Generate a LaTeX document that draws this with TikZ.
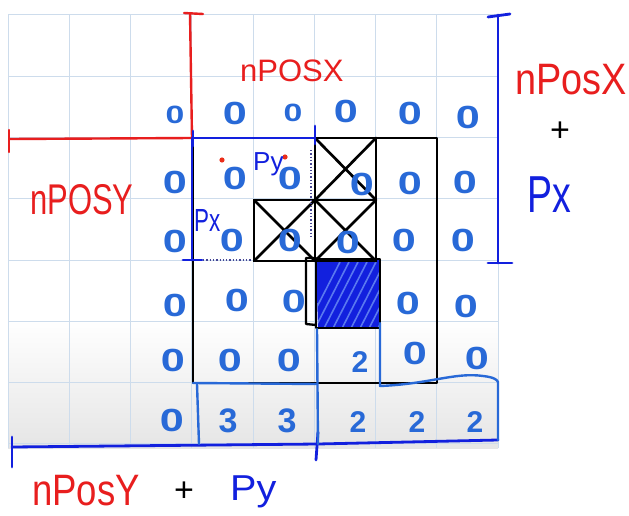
\documentclass[tikz,border=0pt]{standalone}
\usepackage{fontspec}
\setmainfont{Liberation Sans}
\usetikzlibrary{calc}
\definecolor{zb}{RGB}{40,105,215}
\definecolor{pb}{RGB}{18,32,222}
\definecolor{pr}{RGB}{232,30,30}
\definecolor{gridc}{RGB}{205,220,236}
\definecolor{dotc}{RGB}{70,70,150}
\definecolor{hatchc}{RGB}{90,120,240}
\newcommand\zerog{\scalebox{1.35}[1]{0}}
\begin{document}
\begin{tikzpicture}[x=1pt,y=-1pt,
  gridline/.style={gridc,line width=1pt},
  blk/.style={black,line width=2.7pt,line join=round,line cap=round},
  bracketblue/.style={pb,line width=2.8pt,line cap=round},
  outlineblue/.style={zb,line width=2.4pt,line cap=round,line join=round},
  bracketred/.style={pr,line width=2.4pt,line cap=round},
  digit/.style={text=zb,inner sep=0pt,font=\fontsize{32}{32}\selectfont\bfseries},
  digitsmall/.style={digit,font=\fontsize{25}{25}\selectfont\bfseries},
  redlabel/.style={text=pr,inner sep=0pt},
  bluelabel/.style={text=pb,inner sep=0pt},
  pluslabel/.style={text=black,inner sep=0pt,font=\fontsize{34}{34}\selectfont}]
\useasboundingbox (0,0) rectangle (629,516);
\fill[white] (0,0) rectangle (629,516);
% paper shading and grid
\shade[top color=white,bottom color=black!10] (8,320) rectangle (498,448);
\foreach \i in {0,...,8} \draw[gridline] ({8+61.25*\i},15) -- ({8+61.25*\i},448);
\foreach \j in {0,...,7} \draw[gridline] (8,{15+61.25*\j}) -- (498,{15+61.25*\j});

% hatched cell
\begin{scope}
  \clip (316,260) -- (380,259) -- (380,327) -- (318,329) -- cycle;
  \fill[pb] (300,250) rectangle (390,340);
  \foreach \k in {0,9,...,90}
    \draw[hatchc,line width=1.6pt] ({300+\k},340) -- ({340+\k},262);
\end{scope}
\draw[blk,line width=2.3pt] (316,259) rectangle (380,328);
\draw[blk,line width=2.3pt] (316,258) -- (306,258) -- (306,324) -- (316,325);

% black outline and crossed cells
\draw[blk] (315,138) -- (437,138) -- (437,383) -- (193,383) -- (193,140);
\draw[blk] (315,138) -- (315,261);
\draw[blk] (376,138) -- (376,261);
\draw[blk] (315,200) -- (376,200);
\draw[blk] (254,200) rectangle (315,261);
\draw[blk] (315,261) -- (376,261);
\draw[blk] (315,138) -- (376,200) (376,138) -- (315,200);
\draw[blk] (254,200) -- (315,261) (315,200) -- (254,261);
\draw[blk] (315,200) -- (376,261) (376,200) -- (315,261);

% dotted marks
\draw[dotc,dotted,line width=1.3pt] (311,150) -- (311,236);
\draw[dotc,dotted,line width=1.3pt] (203,260) -- (252,260);

% coordinates for brackets
\coordinate (rvTop) at (190,13);   \coordinate (rvBot) at (192,138);
\coordinate (rhL) at (10,139);     \coordinate (rhR) at (192,138);
\coordinate (bTop) at (498,15);    \coordinate (bBot) at (498,263);
\coordinate (tL) at (193,138);     \coordinate (tR) at (315,138);
\coordinate (lT) at (192,138);     \coordinate (lB) at (192,260);
\coordinate (bl) at (12,447);      \coordinate (bm) at (318,444);
\coordinate (br) at (498,440);

% red brackets
\draw[bracketred] (rvTop) -- (rvBot);
\draw[bracketred] ($(rvTop)+(-6,0)$) -- ($(rvTop)+(13,1)$);
\draw[bracketred] (rhL) -- (rhR);
\draw[bracketred] ($(rhL)+(-1,-9)$) -- ($(rhL)+(-1,13)$);

% blue brackets
\draw[bracketblue] (bTop) -- (bBot);
\draw[bracketblue] ($(bTop)+(-10,2)$) -- ($(bTop)+(12,-1)$);
\draw[bracketblue] ($(bBot)+(-10,0)$) -- ($(bBot)+(14,0)$);
\draw[bracketblue] (tL) -- (tR);
\draw[bracketblue] ($(tR)+(0,-12)$) -- ($(tR)+(0,6)$);
\draw[bracketblue] ($(tL)+(0,-7)$) -- ($(tL)+(0,8)$);
\draw[bracketblue] (lT) -- (lB);
\draw[bracketblue] ($(lB)+(-9,0)$) -- ($(lB)+(10,0)$);
\draw[bracketblue] (bl) -- (bm) -- (br);
\draw[bracketblue] ($(bl)+(0,-10)$) -- ($(bl)+(0,20)$);
\draw[bracketblue] ($(bm)+(0,-12)$) -- ($(bm)+(-2,16)$);

% blue outline of the bottom region
\draw[outlineblue] (193,383) -- (317,384);
\draw[outlineblue] (197,384) -- (199,444);
\draw[outlineblue] (317,329) -- (318,444);
\draw[outlineblue] (380,323) -- (380,386)
  .. controls (430,384) and (455,372) .. (483,376)
  .. controls (492,377) and (497,379) .. (498,382) -- (498,440);

% red dots
\fill[pr!85!orange] (222,160) circle (2.6);
\fill[pr!85!orange] (285,157) circle (2.6);

% row 1
\node[digitsmall] (c12) at (175,115) {\zerog};
\node[digit] (c13) at (235,113) {\zerog};
\node[digitsmall] (c14) at (293,113) {\zerog};
\node[digit] (c15) at (346,111) {\zerog};
\node[digit] (c16) at (410,113) {\zerog};
\node[digit] (c17) at (468,117) {\zerog};
% row 2
\node[digit] (c22) at (175,182) {\zerog};
\node[digit] (c23) at (235,178) {\zerog};
\node[digit] (c24) at (290,178) {\zerog};
\node[digit] (c25) at (362,184) {\zerog};
\node[digit] (c26) at (410,183) {\zerog};
\node[digit] (c27) at (465,182) {\zerog};
% row 3
\node[digit] (c32) at (175,241) {\zerog};
\node[digit] (c33) at (232,240) {\zerog};
\node[digit] (c34) at (290,240) {\zerog};
\node[digit] (c35) at (348,242) {\zerog};
\node[digit] (c36) at (404,240) {\zerog};
\node[digit] (c37) at (463,240) {\zerog};
% row 4
\node[digit] (c42) at (175,305) {\zerog};
\node[digit] (c43) at (237,300) {\zerog};
\node[digit] (c44) at (294,301) {\zerog};
\node[digit] (c46) at (408,303) {\zerog};
\node[digit] (c47) at (466,306) {\zerog};
% row 5
\node[digit] (c52) at (173,360) {\zerog};
\node[digit] (c53) at (230,360) {\zerog};
\node[digit] (c54) at (289,360) {\zerog};
\node[digit,font=\fontsize{30}{30}\selectfont\bfseries] (c55) at (360,362) {2};
\node[digit] (c56) at (415,353) {\zerog};
\node[digit] (c57) at (477,358) {\zerog};
% row 6
\node[digit] (c62) at (172,420) {\zerog};
\node[digit,font=\fontsize{34}{34}\selectfont\bfseries] (c63) at (228,421) {3};
\node[digit,font=\fontsize{34}{34}\selectfont\bfseries] (c64) at (287,421) {3};
\node[digit,font=\fontsize{30}{30}\selectfont\bfseries] (c65) at (358,422) {2};
\node[digit,font=\fontsize{30}{30}\selectfont\bfseries] (c66) at (417,422) {2};
\node[digit,font=\fontsize{30}{30}\selectfont\bfseries] (c67) at (475,422) {2};

% labels
\node[redlabel,anchor=base west,font=\fontsize{31}{31}\selectfont] (lblTop) at (240,82) {nPOSX};
\node[redlabel,anchor=base west,font=\fontsize{43}{43}\selectfont] (lblLeft) at (30,214) {\scalebox{0.72}[1]{nPOSY}};
\node[redlabel,anchor=base west,font=\fontsize{44}{44}\selectfont] (lblRight) at (515,95) {\scalebox{0.86}[1]{nPosX}};
\node[pluslabel] (plusRight) at (560,132) {+};
\node[bluelabel,anchor=base west,font=\fontsize{52}{52}\selectfont] (pxRight) at (527,212) {\scalebox{0.72}[1]{Px}};
\node[bluelabel,anchor=base west,font=\fontsize{26}{26}\selectfont] (pySmall) at (253,170) {Py};
\node[bluelabel,anchor=base west,font=\fontsize{32}{32}\selectfont] (pxSmall) at (194,231) {\scalebox{0.7}[1]{Px}};
\node[redlabel,anchor=base west,font=\fontsize{44}{44}\selectfont] (lblBottom) at (32,505) {\scalebox{0.83}[1]{nPosY}};
\node[pluslabel] (plusBottom) at (184,492) {+};
\node[bluelabel,anchor=base west,font=\fontsize{36}{36}\selectfont] (pyBottom) at (230,500) {\scalebox{1.1}[1]{Py}};
\end{tikzpicture}
\end{document}
